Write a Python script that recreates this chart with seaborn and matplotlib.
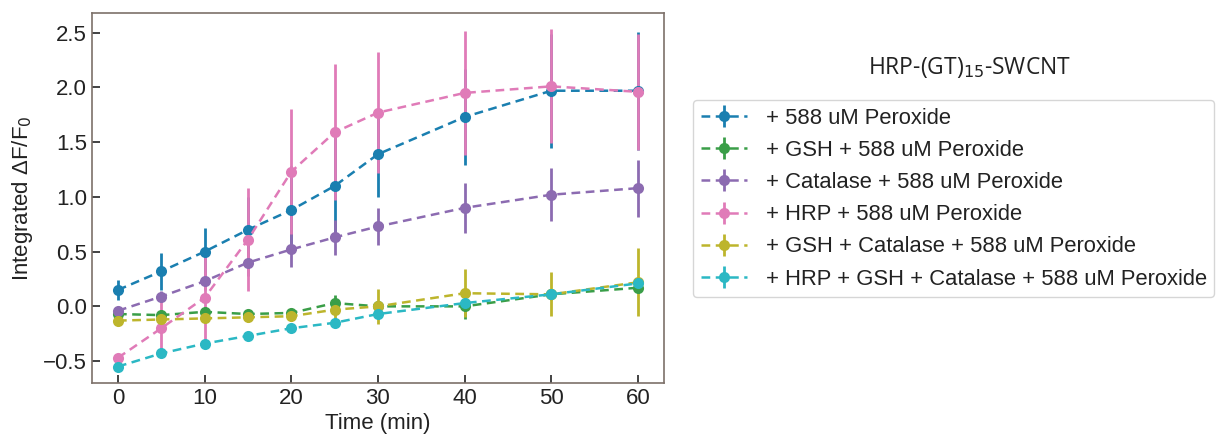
import numpy as np
import pandas as pd
import matplotlib
matplotlib.use("Agg")
import matplotlib.pyplot as plt
import seaborn as sns
from matplotlib.legend_handler import HandlerTuple

# Time points (min)
time_min = [0, 5, 10, 15, 20, 25, 30, 40, 50, 60]

labels = [
    "+ 588 uM Peroxide",
    "+ GSH + 588 uM Peroxide",
    "+ Catalase + 588 uM Peroxide",
    "+ HRP + 588 uM Peroxide",
    "+ GSH + Catalase + 588 uM Peroxide",
    "+ HRP + GSH + Catalase + 588 uM Peroxide",
]

# Mean integrated dF/F0 per condition
peroxide = [0.15, 0.32, 0.50, 0.70, 0.88, 1.10, 1.39, 1.73, 1.97, 1.97]
gsh = [-0.07, -0.08, -0.05, -0.07, -0.06, 0.03, 0.00, 0.00, 0.11, 0.17]
catalase = [-0.04, 0.09, 0.23, 0.40, 0.52, 0.63, 0.73, 0.90, 1.02, 1.08]
hrp = [-0.47, -0.20, 0.08, 0.61, 1.23, 1.59, 1.77, 1.95, 2.01, 1.96]
gsh_catalase = [-0.13, -0.12, -0.11, -0.10, -0.09, -0.03, 0.00, 0.12, 0.11, 0.22]
hrp_gsh_catalase = [-0.55, -0.43, -0.34, -0.27, -0.20, -0.15, -0.07, 0.03, 0.11, 0.21]

# Standard deviations
peroxide_sd = [0.09, 0.17, 0.22, 0.30, 0.40, 0.50, 0.39, 0.44, 0.52, 0.54]
gsh_sd = [0.03, 0.03, 0.03, 0.04, 0.03, 0.07, 0.05, 0.12, 0.05, 0.05]
catalase_sd = [0.03, 0.05, 0.08, 0.12, 0.16, 0.16, 0.17, 0.23, 0.24, 0.26]
hrp_sd = [0.03, 0.25, 0.38, 0.47, 0.57, 0.62, 0.55, 0.57, 0.52, 0.53]
gsh_catalase_sd = [0.03, 0.03, 0.03, 0.04, 0.04, 0.10, 0.16, 0.22, 0.20, 0.31]
hrp_gsh_catalase_sd = [0.02, 0.03, 0.03, 0.03, 0.03, 0.03, 0.04, 0.03, 0.03, 0.04]

means = [peroxide, gsh, catalase, hrp, gsh_catalase, hrp_gsh_catalase]
sds = [peroxide_sd, gsh_sd, catalase_sd, hrp_sd, gsh_catalase_sd, hrp_gsh_catalase_sd]
colors = ["#1a7fb0", "#3a9e48", "#8c6bb1", "#e07bb8", "#bdb52c", "#2bb8c4"]

df = pd.concat(
    [pd.DataFrame({"Time": time_min, "Value": m, "SD": s, "Condition": lab})
     for m, s, lab in zip(means, sds, labels)],
    ignore_index=True,
)

sns.set_theme(style="ticks")
plt.rcParams["font.family"] = ["Liberation Sans", "DejaVu Sans"]

fig = plt.figure(figsize=(12.21, 4.38), dpi=100)
ax = fig.add_axes([0.0753, 0.1256, 0.4685, 0.8447])

# Error bars first, so markers sit on top of them
bars = []
for lab, col in zip(labels, colors):
    sub = df[df["Condition"] == lab]
    eb = ax.errorbar(sub["Time"], sub["Value"], yerr=sub["SD"], fmt="none",
                     ecolor=col, elinewidth=2.0, capsize=0, zorder=2)
    bars.append(eb)

sns.lineplot(data=df, x="Time", y="Value", hue="Condition", hue_order=labels,
             palette=colors, marker="o", markersize=8, markeredgewidth=0,
             linewidth=1.8, legend=False, ax=ax, zorder=3)
for line in ax.lines:
    line.set_linestyle((0, (3.5, 2.2)))

ax.set_xlim(-3, 63)
ax.set_ylim(-0.70, 2.68)
ax.set_xticks([0, 10, 20, 30, 40, 50, 60])
ax.set_yticks([-0.5, 0.0, 0.5, 1.0, 1.5, 2.0, 2.5])
ax.set_yticklabels(["\u22120.5", "0.0", "0.5", "1.0", "1.5", "2.0", "2.5"])
ax.tick_params(direction="in", length=6, width=1.2, labelsize=16, colors="#222222")
for sp in ax.spines.values():
    sp.set_color("#7d716a")
    sp.set_linewidth(1.2)
ax.set_xlabel("Time (min)", fontsize=16, labelpad=3, color="#222222")
ax.set_ylabel("Integrated \u0394F/F$_0$", fontsize=16, labelpad=6, color="#222222")

handles = [(ln, eb) for ln, eb in zip(ax.lines, bars)]
leg = fig.legend(handles, labels, handler_map={tuple: HandlerTuple(ndivide=1)},
                 loc="upper left", bbox_to_anchor=(0.5676, 0.7717),
                 fontsize=15.8, frameon=True, fancybox=True, labelspacing=0.51,
                 handlelength=2.1, handletextpad=0.86, borderpad=0.35,
                 borderaxespad=0)
leg.get_frame().set_edgecolor("#cccccc")
leg.get_frame().set_linewidth(1.0)
for t in leg.get_texts():
    t.set_color("#222222")

fig.text(0.794, 0.845, "HRP-(GT)$_{15}$-SWCNT", ha="center", va="center",
         fontsize=16.5, family=["Open Sans", "DejaVu Sans"], color="#222222")

fig.savefig("out.png", dpi=100)
